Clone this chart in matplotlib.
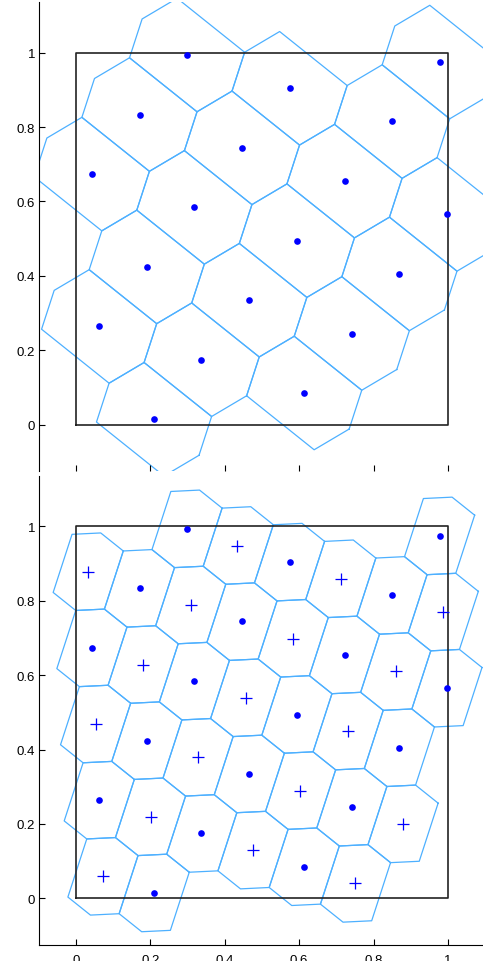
import numpy as np
import matplotlib
matplotlib.use("Agg")
import matplotlib.pyplot as plt

plt.rcParams['font.family'] = ['Liberation Sans', 'DejaVu Sans']

# ============= points =============
dots_x = [0.299, 0.171, 0.043, 0.318, 0.446, 0.574, 0.978, 0.849, 0.722, 0.998,
          0.594, 0.190, 0.062, 0.337, 0.210, 0.466, 0.869, 0.742, 0.614]
dots_y = [0.993, 0.833, 0.674, 0.584, 0.745, 0.905, 0.975, 0.815, 0.655, 0.565,
          0.494, 0.424, 0.264, 0.175, 0.015, 0.334, 0.405, 0.245, 0.085]

plus_x = [0.033, 0.309, 0.181, 0.434, 0.712, 0.987, 0.584, 0.860, 0.456,
          0.053, 0.329, 0.201, 0.073, 0.732, 0.603, 0.476, 0.879, 0.751]
plus_y = [0.878, 0.789, 0.628, 0.947, 0.859, 0.769, 0.698, 0.610, 0.539,
          0.469, 0.379, 0.219, 0.059, 0.449, 0.289, 0.130, 0.200, 0.040]

ticks = [0, 0.2, 0.4, 0.6, 0.8, 1]
tick_labels = ['0', '0.2', '0.4', '0.6', '0.8', '1']

CELL_COLOR = '#4db0ff'
MARK_COLOR = '#0000ff'


# ============= lattice voronoi cells =============
def clip(poly, a, b):
    # keep the part of poly where a . x <= b
    out = []
    n = len(poly)
    for i in range(n):
        p, q = poly[i], poly[(i + 1) % n]
        fp, fq = a @ p - b, a @ q - b
        if fp <= 0:
            out.append(p)
        if fp * fq < 0:
            t = fp / (fp - fq)
            out.append(p + t * (q - p))
    return out


def fit_lattice(pts):
    # rough basis from the point nearest the middle, then least squares
    c = pts[np.argmin(np.linalg.norm(pts - pts.mean(0), axis=1))]
    d = pts - c
    d = d[np.linalg.norm(d, axis=1) > 1e-9]
    d = d[np.argsort(np.linalg.norm(d, axis=1))]
    b1 = d[0]
    b2 = next(v for v in d[1:] if abs(b1[0] * v[1] - b1[1] * v[0]) > 0.3 * np.linalg.norm(b1) * np.linalg.norm(v))
    ij = np.round(np.linalg.solve(np.column_stack([b1, b2]), (pts - c).T).T)
    A = np.column_stack([np.ones(len(pts)), ij])
    coef = np.linalg.lstsq(A, pts, rcond=None)[0]
    return A @ coef, coef[1], coef[2]


def lattice_cells(pts):
    centres, b1, b2 = fit_lattice(pts)
    cell = [np.array(v, float) for v in [(-1, -1), (1, -1), (1, 1), (-1, 1)]]
    for k in range(-3, 4):
        for l in range(-3, 4):
            if k == 0 and l == 0:
                continue
            q = k * b1 + l * b2
            cell = clip(cell, 2 * q, q @ q)
    cell = np.array(cell)
    return [cell + c for c in centres]


def style_axes(ax, show_xlabels):
    ax.set_xlim(-0.1, 1.1)
    ax.set_ylim(-0.125, 1.135)
    ax.spines['top'].set_visible(False)
    ax.spines['right'].set_visible(False)
    ax.spines['bottom'].set_visible(show_xlabels)
    ax.set_xticks(ticks)
    ax.set_yticks(ticks)
    ax.set_yticklabels(tick_labels)
    if show_xlabels:
        ax.set_xticklabels(tick_labels)
    else:
        ax.set_xticklabels([])
    ax.tick_params(axis='both', direction='in', length=4, width=0.8,
                   labelsize=9.5)
    ax.tick_params(axis='y', pad=2.5)
    ax.tick_params(axis='x', pad=6.5)


def draw(ax, cells, show_plus, show_xlabels):
    for c in cells:
        xs = np.append(c[:, 0], c[0, 0])
        ys = np.append(c[:, 1], c[0, 1])
        ax.plot(xs, ys, color=CELL_COLOR, lw=0.9, zorder=1)
    ax.plot([0, 1, 1, 0, 0], [0, 0, 1, 1, 0], color='#222222', lw=1.2, zorder=2)
    ax.plot(dots_x, dots_y, 'o', color=MARK_COLOR, ms=4.8, mec='none', zorder=3)
    if show_plus:
        ax.plot(plus_x, plus_y, '+', color=MARK_COLOR, ms=8, mew=0.9, zorder=3)
    style_axes(ax, show_xlabels)


dots = np.column_stack([dots_x, dots_y])
both = np.vstack([dots, np.column_stack([plus_x, plus_y])])

fig = plt.figure(figsize=(4.83, 9.62), dpi=100)
ax1 = fig.add_axes([0.0803, 0.5092, 0.9242, 0.4872])
ax2 = fig.add_axes([0.0803, 0.0168, 0.9242, 0.4872])

draw(ax1, lattice_cells(dots), False, False)
draw(ax2, lattice_cells(both), True, True)

fig.savefig('out.png', dpi=100)
